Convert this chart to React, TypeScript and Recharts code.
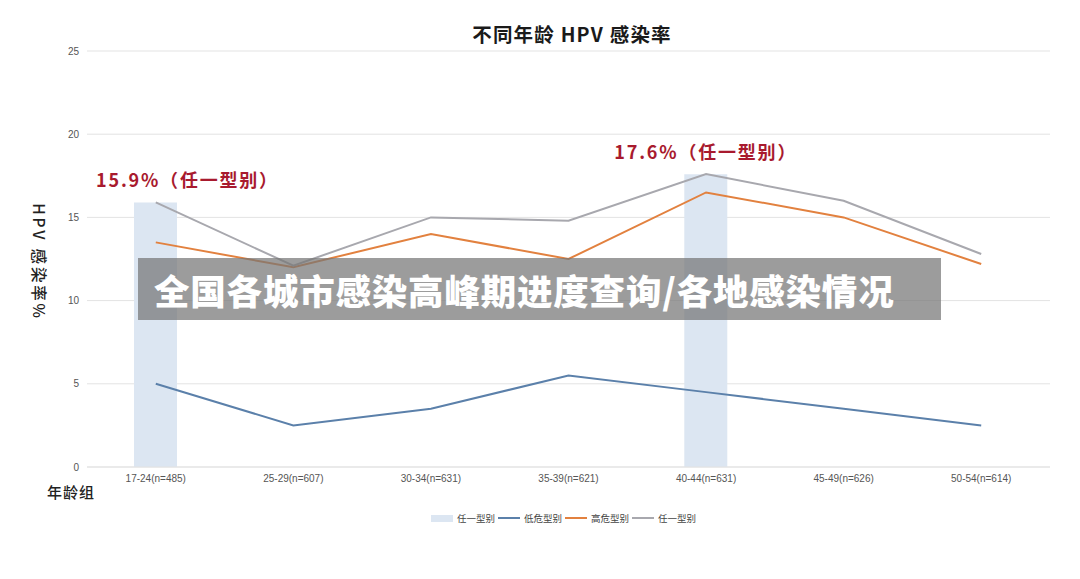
import React from 'react';
import { ComposedChart, Bar, Line, XAxis, YAxis, CartesianGrid, LabelList } from 'recharts';

const ageGroups = ['17-24(n=485)', '25-29(n=607)', '30-34(n=631)', '35-39(n=621)', '40-44(n=631)', '45-49(n=626)', '50-54(n=614)'];
const peakBars = [15.9, null, null, null, 17.6, null, null];
const lowRisk = [5.0, 2.5, 3.5, 5.5, 4.5, 3.5, 2.5];
const highRisk = [13.5, 12.0, 14.0, 12.5, 16.5, 15.0, 12.2];
const anyType = [15.9, 12.1, 15.0, 14.8, 17.6, 16.0, 12.8];
const yTicks = [0, 5, 10, 15, 20, 25];

const data = ageGroups.map((g, i) => ({
  group: g,
  peak: peakBars[i],
  low: lowRisk[i],
  high: highRisk[i],
  any: anyType[i],
}));

const CJK = '"Noto Sans CJK SC", "Noto Sans", sans-serif';
const TICK = 'Arial, "Liberation Sans", "Noto Sans CJK SC", sans-serif';

const COLORS = {
  bar: '#dce6f2',
  low: '#5b80aa',
  high: '#e2813f',
  any: '#a8a8ae',
  note: '#a81a2e',
};

// horizontal nudge for each peak caption (keeps the first one inside the chart)
const labelShift = [32, 0, 0, 0, 0, 0, 0];

const PeakLabel = (props: any) => {
  const { x, y, width, value, index } = props;
  if (value == null) return null;
  const cx = x + width / 2 + (labelShift[index] || 0);
  return (
    <text
      x={cx}
      y={y - 15}
      textAnchor="middle"
      fill={COLORS.note}
      fontSize={18}
      fontWeight={700}
      fontFamily={CJK}
      letterSpacing={1.8}
    >
      {`${value}%（任一型别）`}
    </text>
  );
};

const legendItems = [
  { name: '任一型别', color: COLORS.bar, kind: 'rect' },
  { name: '低危型别', color: COLORS.low, kind: 'line' },
  { name: '高危型别', color: COLORS.high, kind: 'line' },
  { name: '任一型别', color: COLORS.any, kind: 'line' },
];

export default function App() {
  return (
    <div style={{ position: 'absolute', left: 0, top: 0, width: 1080, height: 579, background: '#fff', overflow: 'hidden' }}>
      <div
        style={{
          position: 'absolute',
          left: 0,
          width: 1080,
          top: 19,
          textAlign: 'center',
          fontFamily: CJK,
          fontSize: 19.5,
          fontWeight: 700,
          color: '#1a1a1a',
          paddingLeft: 64,
          boxSizing: 'border-box',
          letterSpacing: 1.2,
        }}
      >
        不同年龄 HPV 感染率
      </div>
      <ComposedChart
        width={1080}
        height={579}
        data={data}
        margin={{ top: 51, right: 30, left: 37, bottom: 82 }}
      >
        <CartesianGrid vertical={false} stroke="#e3e3e3" strokeWidth={1} />
        <XAxis
          dataKey="group"
          axisLine={{ stroke: '#e3e3e3' }}
          tickLine={false}
          tickSize={0}
          tickMargin={8}
          height={30}
          tick={{ fontSize: 10, fill: '#555', fontFamily: TICK }}
        />
        <YAxis
          domain={[0, 25]}
          ticks={yTicks}
          axisLine={false}
          tickLine={false}
          tickSize={0}
          tickMargin={8}
          width={50}
          tick={{ fontSize: 10, fill: '#555', fontFamily: TICK }}
        />
        <Bar dataKey="peak" name="任一型别" fill={COLORS.bar} barSize={43} isAnimationActive={false}>
          <LabelList dataKey="peak" content={PeakLabel} />
        </Bar>
        <Line type="linear" dataKey="low" name="低危型别" stroke={COLORS.low} strokeWidth={2} dot={false} isAnimationActive={false} />
        <Line type="linear" dataKey="high" name="高危型别" stroke={COLORS.high} strokeWidth={2} dot={false} isAnimationActive={false} />
        <Line type="linear" dataKey="any" name="任一型别" stroke={COLORS.any} strokeWidth={2} dot={false} isAnimationActive={false} />
      </ComposedChart>

      {/* vertical y-axis caption */}
      <div
        style={{
          position: 'absolute',
          left: 40,
          top: 262,
          transform: 'translate(-50%, -50%) rotate(90deg)',
          whiteSpace: 'nowrap',
          fontFamily: CJK,
          fontSize: 15.5,
          fontWeight: 500,
          color: '#222',
          letterSpacing: 2.8,
        }}
      >
        HPV 感染率%
      </div>

      {/* x-axis caption */}
      <div
        style={{
          position: 'absolute',
          left: 47,
          top: 481,
          fontFamily: CJK,
          fontSize: 15,
          fontWeight: 500,
          color: '#222',
          letterSpacing: 1,
        }}
      >
        年龄组
      </div>

      {/* legend */}
      <div
        style={{
          position: 'absolute',
          left: 0,
          width: 1080,
          top: 511,
          display: 'flex',
          justifyContent: 'center',
          alignItems: 'center',
          paddingLeft: 50,
          boxSizing: 'border-box',
          fontFamily: CJK,
          fontSize: 9.5,
          color: '#444',
        }}
      >
        {legendItems.map((it, i) => (
          <div key={i} style={{ display: 'flex', alignItems: 'center', marginRight: 3 }}>
            {it.kind === 'rect' ? (
              <span style={{ display: 'inline-block', width: 22, height: 7, background: it.color, marginRight: 4 }} />
            ) : (
              <span style={{ display: 'inline-block', width: 22, height: 2, background: it.color, marginRight: 4 }} />
            )}
            <span>{it.name}</span>
          </div>
        ))}
      </div>

      {/* caption banner */}
      <div
        style={{
          position: 'absolute',
          left: 138,
          top: 258,
          width: 803,
          height: 62,
          background: 'rgba(118,118,118,0.72)',
          display: 'flex',
          alignItems: 'center',
          paddingLeft: 16,
          boxSizing: 'border-box',
          fontFamily: CJK,
          fontSize: 35.5,
          fontWeight: 900,
          color: '#fff',
          whiteSpace: 'nowrap',
          letterSpacing: 0.8,
        }}
      >
        全国各城市感染高峰期进度查询/各地感染情况
      </div>
    </div>
  );
}
